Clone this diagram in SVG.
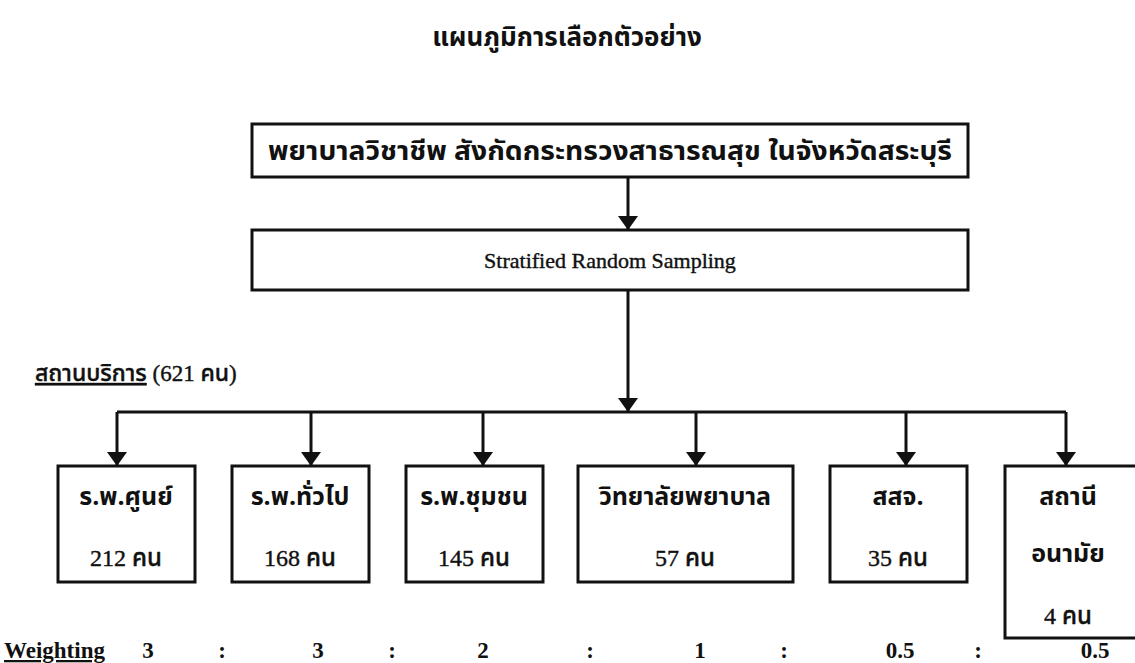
<svg xmlns="http://www.w3.org/2000/svg" width="1135" height="663" viewBox="0 0 1135 663">
<defs>
<style>
.box{fill:#fff;stroke:#111;stroke-width:3}
.ln{fill:none;stroke:#111;stroke-width:3}
.th{font-family:"Noto Sans Thai","Noto Sans","DejaVu Sans",sans-serif;font-weight:bold;fill:#111;text-anchor:middle}
.sr{font-family:"Liberation Serif","Noto Sans Thai",serif;font-weight:500;fill:#111;text-anchor:middle;stroke:#111;stroke-width:0.4}
.wt{font-family:"Liberation Serif",serif;font-weight:bold;font-size:23px;fill:#111;text-anchor:middle}
</style>
<marker id="ah" viewBox="0 0 14 20" refX="14" refY="10" markerWidth="14" markerHeight="20" markerUnits="userSpaceOnUse" orient="auto">
<path d="M0,0 L14,10 L0,20 z" fill="#111"/>
</marker>
</defs>
<rect width="1135" height="663" fill="#fff"/>
<text class="th" x="567" y="46" font-size="26">แผนภูมิการเลือกตัวอย่าง</text>

<g id="connectors">
<line class="ln" x1="628" y1="177" x2="628" y2="230" marker-end="url(#ah)"/>
<line class="ln" x1="628" y1="290" x2="628" y2="412" marker-end="url(#ah)"/>
<line class="ln" x1="117" y1="412" x2="1066" y2="412"/>
<line class="ln" x1="117" y1="412" x2="117" y2="466" marker-end="url(#ah)"/>
<line class="ln" x1="311" y1="412" x2="311" y2="466" marker-end="url(#ah)"/>
<line class="ln" x1="483" y1="412" x2="483" y2="466" marker-end="url(#ah)"/>
<line class="ln" x1="696" y1="412" x2="696" y2="466" marker-end="url(#ah)"/>
<line class="ln" x1="906" y1="412" x2="906" y2="466" marker-end="url(#ah)"/>
<line class="ln" x1="1066" y1="412" x2="1066" y2="466" marker-end="url(#ah)"/>
</g>

<g id="top">
<rect class="box" x="252" y="124" width="716" height="53"/>
<text class="th" x="610" y="160" font-size="26" textLength="684" lengthAdjust="spacingAndGlyphs">พยาบาลวิชาชีพ สังกัดกระทรวงสาธารณสุข ในจังหวัดสระบุรี</text>
</g>
<g id="strat">
<rect class="box" x="252" y="230" width="716" height="60"/>
<text class="sr" x="610" y="268" font-size="22">Stratified Random Sampling</text>
</g>

<g id="label">
<text class="sr" x="35" y="381" font-size="23" style="text-anchor:start"><tspan text-decoration="underline">สถานบริการ</tspan> (621 คน)</text>
</g>

<g id="n1">
<rect class="box" x="58" y="466" width="137" height="116"/>
<text class="th" x="126" y="505" font-size="25">ร.พ.ศูนย์</text>
<text class="sr" x="126" y="566" font-size="24">212 คน</text>
</g>
<g id="n2">
<rect class="box" x="232" y="466" width="137" height="116"/>
<text class="th" x="300" y="505" font-size="25">ร.พ.ทั่วไป</text>
<text class="sr" x="300" y="566" font-size="24">168 คน</text>
</g>
<g id="n3">
<rect class="box" x="406" y="466" width="137" height="116"/>
<text class="th" x="474" y="505" font-size="25">ร.พ.ชุมชน</text>
<text class="sr" x="474" y="566" font-size="24">145 คน</text>
</g>
<g id="n4">
<rect class="box" x="578" y="466" width="215" height="116"/>
<text class="th" x="685" y="505" font-size="25">วิทยาลัยพยาบาล</text>
<text class="sr" x="685" y="566" font-size="24">57 คน</text>
</g>
<g id="n5">
<rect class="box" x="830" y="466" width="137" height="116"/>
<text class="th" x="898" y="505" font-size="25">สสจ.</text>
<text class="sr" x="898" y="566" font-size="24">35 คน</text>
</g>
<g id="n6">
<rect class="box" x="1005" y="466" width="140" height="172"/>
<text class="th" x="1068" y="505" font-size="25">สถานี</text>
<text class="th" x="1068" y="562" font-size="25">อนามัย</text>
<text class="sr" x="1068" y="624" font-size="24">4 คน</text>
</g>

<g id="weights">
<text class="wt" x="4" y="658" style="text-anchor:start" text-decoration="underline">Weighting</text>
<text class="wt" x="148" y="658">3</text>
<text class="wt" x="222" y="658">:</text>
<text class="wt" x="318" y="658">3</text>
<text class="wt" x="392" y="658">:</text>
<text class="wt" x="483" y="658">2</text>
<text class="wt" x="590" y="658">:</text>
<text class="wt" x="700" y="658">1</text>
<text class="wt" x="784" y="658">:</text>
<text class="wt" x="900" y="658">0.5</text>
<text class="wt" x="978" y="658">:</text>
<text class="wt" x="1095" y="658">0.5</text>
</g>
</svg>
